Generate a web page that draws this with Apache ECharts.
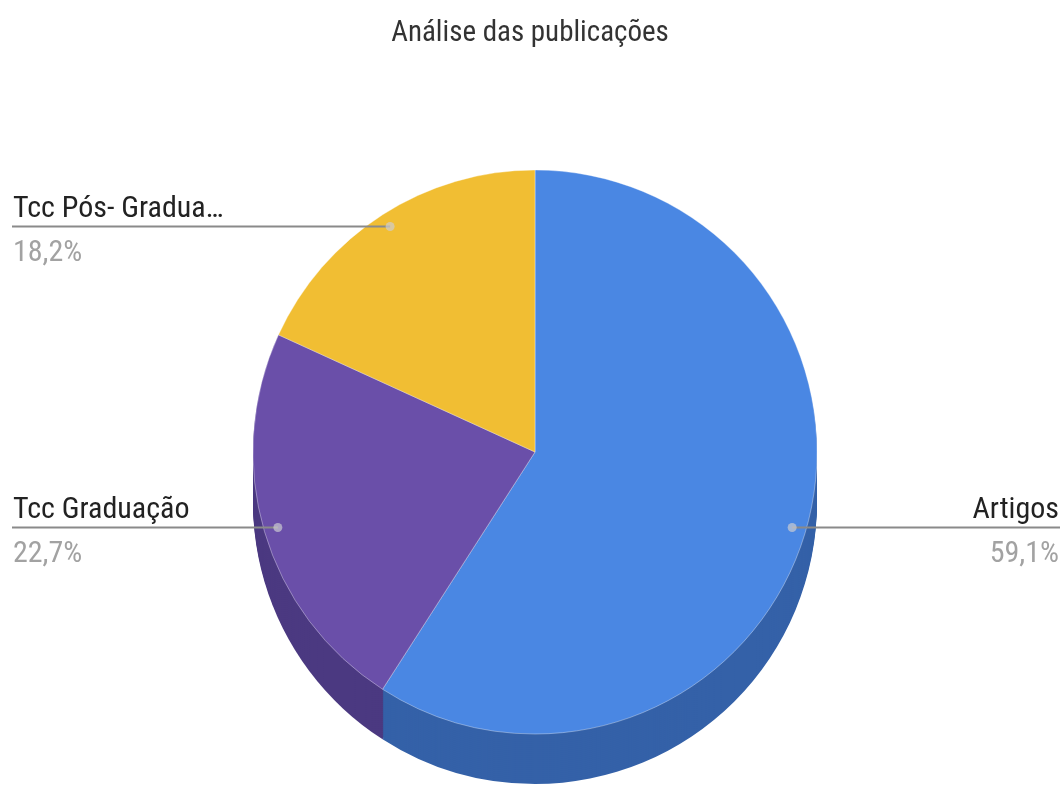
<!DOCTYPE html>
<html>
<head>
<meta charset="utf-8">
<script src="https://cdn.jsdelivr.net/npm/echarts@6/dist/echarts.min.js"></script>
<style>
  html, body { margin: 0; padding: 0; background: #ffffff; }
  #chart { width: 1060px; height: 785px; }
</style>
</head>
<body>
<div id="chart"></div>
<script>
// Publication counts by type
const categories = ['Artigos', 'Tcc Graduação', 'Tcc Pós- Graduação'];
const counts = [13, 5, 4];
const topColors = ['#4a87e3', '#6a4fa9', '#f1be33'];
const sideColors = ['#3461a8', '#4b3981', '#b38a1f'];
const titleText = 'Análise das publicações';

const FONT = '"Roboto Condensed", Roboto, "Liberation Sans", sans-serif';
const W = 1060;
const CX = 535, CY = 452, R = 282, DEPTH = 50, ANCHOR_R = 268;
const total = counts.reduce((a, b) => a + b, 0);

function pct(v) {
  return (v / total * 100).toFixed(1).replace('.', ',') + '%';
}
function shortName(n) {
  return n.length > 16 ? n.slice(0, 15) + '…' : n;
}

const chart = echarts.init(document.getElementById('chart'), null, { renderer: 'canvas' });

const series = [];

// extruded side: stacked darker discs, deepest first
for (let off = DEPTH; off >= 2; off -= 2) {
  series.push({
    type: 'pie',
    center: [CX, CY + off],
    radius: R,
    startAngle: 90,
    clockwise: true,
    silent: true,
    animation: false,
    label: { show: false },
    labelLine: { show: false },
    itemStyle: { borderWidth: 0 },
    data: categories.map((c, i) => ({ name: c, value: counts[i], itemStyle: { color: sideColors[i] } }))
  });
}

// top face
series.push({
  type: 'pie',
  center: [CX, CY],
  radius: R,
  startAngle: 90,
  clockwise: true,
  silent: true,
  animation: false,
  label: { show: false },
  labelLine: { show: false },
  itemStyle: { borderWidth: 1, borderColor: 'rgba(255,255,255,0.35)' },
  data: categories.map((c, i) => ({ name: c, value: counts[i], itemStyle: { color: topColors[i] } }))
});

// labels anchored inside each slice, carried out to the page edges
series.push({
  type: 'pie',
  center: [CX, CY],
  radius: ANCHOR_R,
  startAngle: 90,
  clockwise: true,
  silent: true,
  animation: false,
  z: 5,
  itemStyle: { color: 'rgba(0,0,0,0)', borderWidth: 0 },
  label: {
    show: true,
    position: 'outside',
    formatter: p => '{n|' + shortName(p.name) + '}\n{p|' + pct(p.value) + '}',
    rich: {
      n: { fontFamily: FONT, fontSize: 30, color: '#222222', lineHeight: 36 },
      p: { fontFamily: FONT, fontSize: 30, color: '#a2a2a2', lineHeight: 52 }
    }
  },
  labelLine: { show: true, length: 10, length2: 10, lineStyle: { color: '#8a8a8a', width: 2 } },
  labelLayout: function (p) {
    const pt = p.labelLinePoints[0];
    const left = pt[0] < CX;
    const edgeX = left ? 13 : W - 1;
    return {
      x: edgeX,
      y: pt[1] - 35,
      align: left ? 'left' : 'right',
      verticalAlign: 'top',
      labelLinePoints: [[pt[0], pt[1]], [left ? 12 : W, pt[1]], [left ? 12 : W, pt[1]]]
    };
  },
  data: categories.map((c, i) => ({ name: c, value: counts[i] }))
});

// small anchor dots at the label line start
let acc = 0;
const anchorData = counts.map(v => { const mid = acc + v / 2; acc += v; return [1, mid]; });
series.push({
  type: 'scatter',
  coordinateSystem: 'polar',
  symbol: 'circle',
  symbolSize: 9,
  silent: true,
  animation: false,
  z: 6,
  itemStyle: { color: 'rgba(205,205,210,0.85)' },
  data: anchorData
});

chart.setOption({
  backgroundColor: '#ffffff',
  animation: false,
  title: {
    text: titleText,
    left: 'center',
    top: 19,
    padding: 0,
    textStyle: { fontFamily: FONT, fontSize: 29, fontWeight: 'normal', color: '#333333' }
  },
  polar: { center: [CX, CY], radius: ANCHOR_R },
  angleAxis: { type: 'value', min: 0, max: total, startAngle: 90, clockwise: true, show: false },
  radiusAxis: { type: 'value', min: 0, max: 1, show: false },
  series: series
});
</script>
</body>
</html>
